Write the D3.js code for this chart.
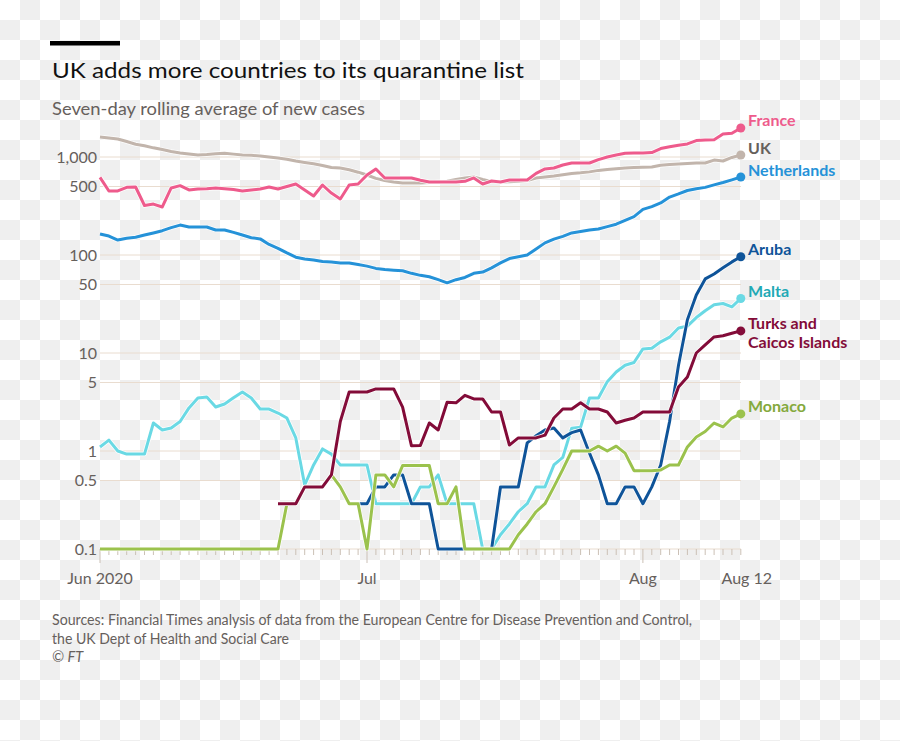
<!DOCTYPE html>
<html><head><meta charset="utf-8">
<script src="https://cdn.jsdelivr.net/npm/d3@7"></script>
<style>
html,body{margin:0;padding:0;background:#fff;}
svg{display:block;font-family:Lato,"Open Sans",sans-serif;}
</style></head>
<body>
<svg id="chart" width="900" height="741"></svg>
<script>
// ---------- DATA ----------
const startDate = new Date(Date.UTC(2020, 5, 1));   // Jun 1 2020
const endDate   = new Date(Date.UTC(2020, 7, 12));  // Aug 12 2020
const yTickValues = [0.1, 0.5, 1, 5, 10, 50, 100, 500, 1000];
const yTickLabels = ["0.1", "0.5", "1", "5", "10", "50", "100", "500", "1,000"];
const xTickLabels = [["2020-06-01", "Jun 2020"], ["2020-07-01", "Jul"], ["2020-08-01", "Aug"], ["2020-08-12", "Aug 12"]];

const uk = [1600,1560,1527,1440,1350,1300,1240,1190,1140,1100,1075,1050,1060,1080,1090,1070,1050,1040,1025,1000,
  975,950,910,880,855,820,780,773,740,700,655,605,575,555,543,543,543,548,556,565,
  590,610,625,590,560,556,560,565,575,610,625,640,660,680,690,705,730,745,760,773,
  780,787,791,825,840,850,860,868,868,930,910,990,1048];
const france = [620,450,450,490,494,320,331,309,483,510,461,471,475,483,475,465,450,460,471,494,
  471,500,530,461,400,518,429,373,518,530,655,755,611,611,611,611,580,556,556,556,
  556,565,611,530,569,556,582,582,582,680,755,773,829,868,868,868,940,1000,1050,1090,
  1099,1099,1110,1220,1270,1320,1360,1470,1490,1500,1717,1750,1977];
const netherlands = [164,156,142,148,152,160,168,177,190,202,193,193,193,180,180,170,160,150,146,128,
  117,105,95,91,89,86,85,83,83,80,77,73,71,70,69,65,62,60,56,52,
  56,59,65,67,74,83,92,96,100,115,133,145,155,168,174,180,184,195,206,225,
  246,292,312,340,390,420,455,475,490,520,550,585,625];
const aruba = [null,null,null,null,null,null,null,null,null,null,null,null,null,null,null,null,null,null,null,null,
  null,null,null,null,null,null,null,null,null,0.29,0.29,0.43,0.43,0.57,0.57,0.29,0.29,0.29,0.1,0.1,
  0.1,0.1,0.1,0.1,0.1,0.43,0.43,0.43,1.21,1.43,1.64,1.72,1.36,1.54,1.64,0.95,0.57,0.29,0.29,0.43,
  0.43,0.29,0.43,0.72,2.0,7.5,21.8,39,57,64,74,85,96];
const malta = [1.1,1.29,1.0,0.93,0.93,0.93,1.93,1.64,1.72,2.0,2.75,3.47,3.56,2.81,3.02,3.5,4.0,3.47,2.68,2.68,
  2.44,2.17,1.36,0.45,0.72,1.05,0.93,0.72,0.72,0.72,0.72,0.29,0.29,0.29,0.29,0.29,0.43,0.43,0.57,0.29,
  0.29,0.29,0.29,0.1,0.1,0.14,0.18,0.24,0.29,0.43,0.43,0.72,0.86,1.71,1.75,3.47,3.47,5.1,6.4,7.5,
  8.0,11.0,11.2,13.0,14.5,18.0,18.8,23.0,27.0,31.0,32.0,29.5,36.0];
const turksCaicos = [null,null,null,null,null,null,null,null,null,null,null,null,null,null,null,null,null,null,null,null,
  0.29,0.29,0.29,0.43,0.43,0.43,0.57,2.0,4.0,4.0,4.0,4.3,4.3,4.3,2.8,1.13,1.14,1.93,1.64,3.14,
  3.1,3.7,3.4,3.4,2.5,2.5,1.15,1.36,1.36,1.36,1.45,2.17,2.68,2.68,3.1,2.68,2.68,2.5,1.93,2.06,
  2.17,2.5,2.5,2.5,2.5,4.5,5.7,10,12.1,14.6,15,15.9,16.8];
const monaco = [0.1,0.1,0.1,0.1,0.1,0.1,0.1,0.1,0.1,0.1,0.1,0.1,0.1,0.1,0.1,0.1,0.1,0.1,0.1,0.1,
  0.1,0.29,0.29,0.43,0.43,0.43,0.57,0.43,0.29,0.29,0.1,0.57,0.57,0.43,0.71,0.71,0.71,0.71,0.29,0.29,
  0.43,0.1,0.1,0.1,0.1,0.1,0.1,0.14,0.18,0.24,0.29,0.43,0.65,1.0,1.0,1.0,1.12,1.0,1.12,0.95,
  0.63,0.63,0.63,0.64,0.72,0.72,1.1,1.39,1.58,1.93,1.76,2.17,2.39];

const seriesNames = ["UK","France","Netherlands","Malta","Aruba","Monaco","Turks and Caicos Islands"];
const seriesValues = [uk, france, netherlands, malta, aruba, monaco, turksCaicos];
const lineColors  = ["#c2b5ac","#ee5b8c","#2592d8","#6ad9e4","#0f5499","#9bc24d","#830c39"];
const labelColors = ["#66605c","#ee5b8c","#2592d8","#21a9b5","#0f5499","#84a93c","#830c39"];
const labelLines  = [["UK"],["France"],["Netherlands"],["Malta"],["Aruba"],["Monaco"],["Turks and","Caicos Islands"]];

// ---------- CHART ----------
const svg = d3.select("#chart");
const defs = svg.append("defs");
const pat = defs.append("pattern").attr("id","checker").attr("width",40).attr("height",40)
  .attr("patternUnits","userSpaceOnUse");
pat.append("rect").attr("width",40).attr("height",40).attr("fill","#ffffff");
pat.append("rect").attr("x",20).attr("y",0).attr("width",20).attr("height",20).attr("fill","#efefef");
pat.append("rect").attr("x",0).attr("y",20).attr("width",20).attr("height",20).attr("fill","#efefef");
svg.append("rect").attr("width",900).attr("height",741).attr("fill","url(#checker)");

const dates = d3.utcDay.range(startDate, d3.utcDay.offset(endDate, 1));
const x = d3.scaleUtc().domain([startDate, endDate]).range([100, 740.8]);
const y = d3.scaleLog().domain([0.1, 1000]).range([549, 157]);

function fit(sel, w){ sel.attr("textLength", w).attr("lengthAdjust","spacingAndGlyphs"); }

// header
svg.append("rect").attr("x",50).attr("y",41).attr("width",70).attr("height",4.5).attr("fill","#000");
fit(svg.append("text").attr("x",52).attr("y",78).attr("font-size",22).attr("fill","#111")
  .text("UK adds more countries to its quarantine list"), 472);
fit(svg.append("text").attr("x",52).attr("y",115).attr("font-size",17).attr("fill","#66605c")
  .text("Seven-day rolling average of new cases"), 313);

// gridlines + y labels
const gy = svg.append("g");
yTickValues.forEach((v,i)=>{
  gy.append("line").attr("x1",100).attr("x2",741).attr("y1",y(v)).attr("y2",y(v))
    .attr("stroke","#e9dccf").attr("stroke-width",1);
  gy.append("text").attr("x",97).attr("y",y(v)+5.5).attr("text-anchor","end")
    .attr("font-size",16).attr("fill","#66605c").text(yTickLabels[i]);
});

// x axis ticks
const majors = xTickLabels.slice(0,3).map(d=>+new Date(d[0]+"T00:00:00Z"));
const gx = svg.append("g");
dates.forEach(d=>{
  const maj = majors.includes(+d);
  gx.append("line").attr("x1",x(d)).attr("x2",x(d)).attr("y1",549).attr("y2",maj?563:555)
    .attr("stroke","#cbc0b6").attr("stroke-width",1);
});
xTickLabels.forEach(([ds,lab],i)=>{
  const d = new Date(ds+"T00:00:00Z");
  gx.append("text").attr("x",x(d)+(i===3?6:0)).attr("y",584).attr("text-anchor","middle")
    .attr("font-size",16).attr("fill","#66605c").text(lab);
});

// lines
const line = d3.line().defined(v=>v!==null).x((v,i)=>x(dates[i])).y(v=>y(v));
const gl = svg.append("g");
seriesValues.forEach((vals,k)=>{
  gl.append("path").attr("d",line(vals)).attr("fill","none").attr("stroke","#fff")
    .attr("stroke-width",4.5).attr("stroke-linejoin","round").attr("opacity",0.9);
  gl.append("path").attr("d",line(vals)).attr("fill","none").attr("stroke",lineColors[k])
    .attr("stroke-width",3).attr("stroke-linejoin","round");
});

// end dots + labels
seriesValues.forEach((vals,k)=>{
  const last = vals[vals.length-1];
  const cy = y(last);
  svg.append("circle").attr("cx",x(endDate)).attr("cy",cy).attr("r",4.5).attr("fill",lineColors[k]);
  const t = svg.append("text").attr("x",748).attr("y",cy-7+5.5).attr("font-size",16)
    .attr("font-weight","bold").attr("fill",labelColors[k]);
  labelLines[k].forEach((ln,j)=>{
    t.append("tspan").attr("x",748).attr("dy",j===0?0:18.5).text(ln);
  });
});

// source
const src = ["Sources: Financial Times analysis of data from the European Centre for Disease Prevention and Control,",
  "the UK Dept of Health and Social Care", "© FT"];
const srcW = [640, 237, 0];
src.forEach((s,i)=>{
  const t = svg.append("text").attr("x",52).attr("y",625+i*18.5).attr("font-size",14.5)
    .attr("fill","#66605c").text(s);
  if(srcW[i]) fit(t, srcW[i]);
  if(i===2) t.attr("font-style","italic");
});
</script>
</body></html>
